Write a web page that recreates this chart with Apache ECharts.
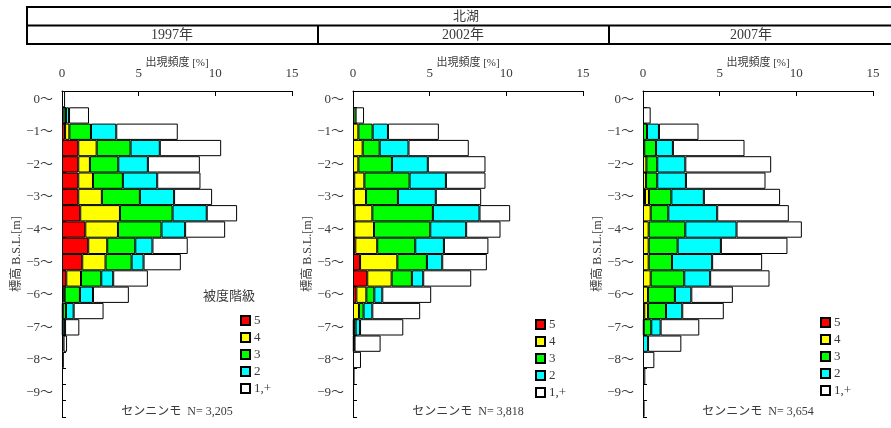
<!DOCTYPE html>
<html><head><meta charset="utf-8">
<script src="https://cdn.jsdelivr.net/npm/echarts@6/dist/echarts.min.js"></script>
<style>html,body{margin:0;padding:0;background:#fff}#c{width:891px;height:428px}</style>
</head><body><div id="c"></div>
<script>
// Depth bins (0~-0.5, -0.5~-1, ... -9.5~-10)
const bins = ["0","-0.5","-1","-1.5","-2","-2.5","-3","-3.5","-4","-4.5","-5","-5.5","-6","-6.5","-7","-7.5","-8","-8.5","-9","-9.5"];
const classNames = ["5","4","3","2","1,+"];
const years = ["1997年","2002年","2007年"];
const counts = ["3,205","3,818","3,654"];
const xTicks = [0,5,10,15];

// 1997
const y1997_c5 = [0,0,0.2,1.06,1.06,1.06,1.06,1.19,1.52,1.71,1.32,0.28,0.1,0,0,0,0,0,0,0];
const y1997_c4 = [0,0.1,0.28,1.2,0.76,0.96,1.54,2.59,2.13,1.24,1.52,0.96,0.07,0.05,0,0,0,0,0,0];
const y1997_c3 = [0,0.16,1.41,2.21,1.85,1.95,2.48,3.43,2.84,1.83,1.7,1.32,1.0,0.21,0.05,0,0,0,0,0];
const y1997_c2 = [0,0.2,1.65,1.91,1.93,2.24,2.23,2.23,1.54,1.12,0.78,0.78,0.85,0.5,0.15,0.1,0,0,0,0];
const y1997_c1 = [0.2,1.3,4.01,4.0,3.39,2.82,2.48,1.98,2.61,2.3,2.43,2.26,2.34,1.95,0.93,0.23,0.12,0,0,0];
// 2002
const y2002_c5 = [0,0,0,0,0,0.08,0.05,0.1,0.08,0.15,0.46,0.93,0.22,0,0,0,0,0,0,0];
const y2002_c4 = [0,0,0.35,0.63,0.35,0.66,0.8,1.16,1.29,1.43,2.43,1.59,0.65,0.39,0.05,0,0,0,0,0];
const y2002_c3 = [0,0.17,0.93,1.11,2.19,2.95,2.08,3.95,3.67,2.48,1.93,1.32,0.52,0.3,0.12,0.05,0,0,0,0];
const y2002_c2 = [0,0,1.0,1.88,2.34,2.37,2.47,3.04,2.34,1.87,1.0,0.74,0.52,0.57,0.29,0.05,0,0,0,0];
const y2002_c1 = [0,0.55,3.32,3.93,3.76,2.58,2.96,2.0,2.24,2.9,2.91,3.13,3.19,3.12,2.82,1.7,0.52,0.1,0,0];
// 2007
const y2007_c5 = [0,0,0,0,0,0,0.13,0,0,0,0,0,0,0.08,0,0,0,0,0,0];
const y2007_c4 = [0,0,0,0.08,0.22,0.2,0.26,0.5,0.37,0.37,0.37,0.5,0.33,0.25,0.05,0,0,0,0,0];
const y2007_c3 = [0,0,0.26,0.77,0.71,0.73,1.46,1.15,2.39,1.89,1.52,2.19,1.75,1.17,0.49,0,0,0,0,0];
const y2007_c2 = [0,0,0.78,1.1,1.83,1.87,2.12,3.19,3.34,2.82,2.62,1.69,1.07,1.06,0.61,0.33,0,0,0,0];
const y2007_c1 = [0,0.5,2.58,4.67,5.6,5.19,4.97,4.67,4.26,4.34,3.26,3.87,2.71,2.71,2.52,2.17,0.74,0.15,0,0.1];

const panels = [
  [y1997_c5,y1997_c4,y1997_c3,y1997_c2,y1997_c1],
  [y2002_c5,y2002_c4,y2002_c3,y2002_c2,y2002_c1],
  [y2007_c5,y2007_c4,y2007_c3,y2007_c2,y2007_c1]
];
const colors = ["#ff0000","#ffff00","#00ff00","#00ffff","#ffffff"];

const FONT = "'Liberation Serif','DejaVu Serif','Noto Sans CJK JP',serif";
const TXT = "#3a3a3a";
const gridLefts = [62,353,643];
const gridW = 230;
const legendPos = [[235,309],[530,313],[815,311]];

const grid=[],xAxis=[],yAxis=[],series=[],legend=[],graphic=[];
panels.forEach((p,gi)=>{
  grid.push({left:gridLefts[gi],top:91,width:gridW,height:326});
  xAxis.push({type:'value',gridIndex:gi,position:'top',min:xTicks[0],max:xTicks[xTicks.length-1],interval:5,
    name:'出現頻度 [%]',nameLocation:'middle',nameGap:22,nameMoveOverlap:false,
    nameTextStyle:{fontFamily:FONT,fontSize:11,color:TXT},
    axisLine:{show:true,lineStyle:{color:'#000',width:1}},
    axisTick:{show:true,inside:true,length:5,lineStyle:{color:'#000'}},
    axisLabel:{margin:11,fontFamily:FONT,fontSize:13,color:TXT},
    splitLine:{show:false}});
  yAxis.push({type:'category',gridIndex:gi,inverse:true,data:bins,
    name:'標高 B.S.L.[m]',nameLocation:'middle',nameGap:39,nameRotate:90,nameMoveOverlap:false,
    nameTextStyle:{fontFamily:FONT,fontSize:12,color:TXT},
    axisLine:{show:true,lineStyle:{color:'#000',width:1}},
    axisTick:{show:true,inside:true,length:4,interval:0,lineStyle:{color:'#000'}},
    axisLabel:{interval:1,margin:9,fontFamily:FONT,fontSize:13,color:TXT,
      formatter:v=>v.replace('-','−')+'～'},
    splitLine:{show:false}});
  p.forEach((arr,ci)=>{
    series.push({type:'bar',name:classNames[ci],xAxisIndex:gi,yAxisIndex:gi,stack:'s'+gi,
      barWidth:'100%',barCategoryGap:0,
      itemStyle:{color:colors[ci],borderColor:'#000',borderWidth:1},
      emphasis:{disabled:true},
      data:arr.map(v=>v>0?v:null)});
  });
  legend.push({orient:'vertical',left:legendPos[gi][0],top:legendPos[gi][1],itemWidth:9,itemHeight:9,itemGap:4,
    icon:'rect',data:classNames,selectedMode:false,
    textStyle:{fontFamily:FONT,fontSize:13,color:TXT,padding:[0,0,0,-1]}});
  graphic.push({type:'text',style:{text:'センニンモ  N= '+counts[gi],font:"12px "+FONT,fill:TXT,
    x:gridLefts[gi]+gridW/2,y:412,textAlign:'center',textVerticalAlign:'middle'}});
});
// header
const headerCenters=[172,463,751];
graphic.push({type:'rect',shape:{x:27,y:7,width:900,height:37},style:{fill:'none',stroke:'#000',lineWidth:2}});
graphic.push({type:'line',shape:{x1:27,y1:25.5,x2:900,y2:25.5},style:{stroke:'#000',lineWidth:2}});
graphic.push({type:'line',shape:{x1:318,y1:25,x2:318,y2:44},style:{stroke:'#000',lineWidth:2}});
graphic.push({type:'line',shape:{x1:609,y1:25,x2:609,y2:44},style:{stroke:'#000',lineWidth:2}});
graphic.push({type:'text',style:{text:'北湖',x:466,y:16.5,textAlign:'center',textVerticalAlign:'middle',font:"13px "+FONT,fill:TXT}});
years.forEach((y,i)=>graphic.push({type:'text',style:{text:y,x:headerCenters[i],y:35,textAlign:'center',textVerticalAlign:'middle',font:"14px "+FONT,fill:TXT}}));
graphic.push({type:'text',style:{text:'被度階級',x:229,y:297,textAlign:'center',textVerticalAlign:'middle',font:"13px "+FONT,fill:TXT}});

const chart = echarts.init(document.getElementById('c'),null,{renderer:'canvas'});
chart.setOption({animation:false,backgroundColor:'#fff',grid,xAxis,yAxis,series,legend,graphic});
</script></body></html>
